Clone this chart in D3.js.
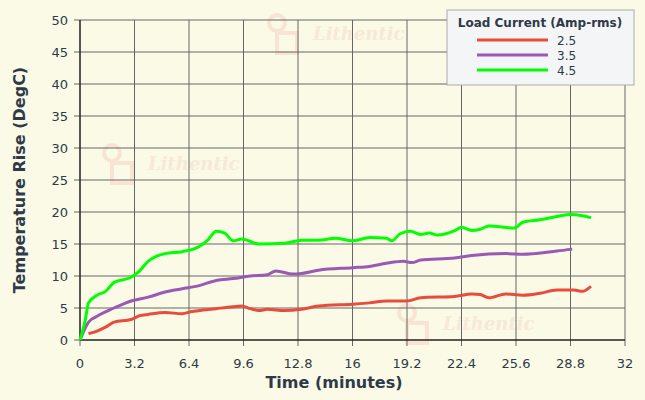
<!DOCTYPE html>
<html><head><meta charset="utf-8">
<script src="https://cdn.jsdelivr.net/npm/d3@7"></script>
<style>
body{margin:0;background:#fafae6;font-family:"DejaVu Sans",sans-serif}
svg text{fill:#2e3a48}
</style></head><body>
<svg width="645" height="400"></svg>
<script>
// data
const seriesNames = ['2.5', '3.5', '4.5']
const seriesColors = ['#e74c3c', '#9b59b6', '#00ff00']
const red = [[0.5,1],[1,1.4],[1.5,2],[2,2.8],[3,3.2],[3.5,3.8],[4,4],[5,4.3],[6,4.1],[6.5,4.4],[8,4.9],[9,5.2],[9.5,5.3],[10,4.9],[10.5,4.6],[11,4.8],[12,4.6],[13,4.8],[14,5.3],[16,5.6],[17,5.8],[18,6.1],[19.2,6.1],[20,6.6],[22,6.8],[23,7.2],[23.5,7.1],[24,6.6],[25,7.2],[26,7.0],[27,7.3],[28,7.8],[29,7.8],[29.5,7.6],[30,8.4]]
const purple = [[0,0],[0.5,2.8],[1,3.7],[2,5],[3,6.1],[4,6.7],[5,7.5],[6,8],[7,8.5],[8,9.3],[9,9.6],[10,10],[11,10.2],[11.5,10.8],[12.5,10.3],[13,10.4],[14,10.9],[16,11.3],[17,11.5],[18,12],[19,12.3],[19.5,12.1],[20,12.5],[22,12.8],[23,13.2],[25,13.5],[26,13.4],[28,13.9],[28.9,14.2]]
const green = [[0,0],[0.3,3],[0.5,5.8],[1,7],[1.5,7.6],[2,9],[2.5,9.4],[3,9.8],[3.5,10.8],[4,12.3],[4.5,13.1],[5,13.5],[6,13.8],[7,14.6],[7.5,15.6],[8,17],[8.5,16.7],[9,15.5],[9.5,15.8],[10.5,15],[12,15.1],[13,15.6],[14,15.6],[15,15.9],[16,15.5],[17,16],[18,15.9],[18.3,15.5],[18.8,16.6],[19.4,17],[20,16.5],[20.5,16.7],[21,16.4],[22,17.1],[22.4,17.6],[23,17.1],[23.5,17.3],[24,17.8],[25.5,17.5],[26,18.4],[27,18.8],[28,19.3],[28.8,19.6],[29.5,19.4],[30,19.1]]
const allSeries = [red, purple, green]
const xTicks = [0, 3.2, 6.4, 9.6, 12.8, 16, 19.2, 22.4, 25.6, 28.8, 32]
const yTicks = [0, 5, 10, 15, 20, 25, 30, 35, 40, 45, 50]

const svg = d3.select('svg')
const pl = 80, pr = 625, pt = 20, pb = 340

const x = d3.scaleLinear().domain([0, 32]).range([pl, pr])
const y = d3.scaleLinear().domain([0, 50]).range([pb, pt])

// watermarks
const marks = [[265, 35], [100, 165], [395, 325]]
marks.forEach(function(m) {
  svg.append('text').attr('x', m[0] + 48).attr('y', m[1] + 5)
    .style('font-family', 'DejaVu Serif').style('font-style', 'italic').style('font-weight', 'bold')
    .style('font-size', '18px').style('fill', '#f8e8d8').text('Lithentic')
  svg.append('circle').attr('cx', m[0] + 12).attr('cy', m[1] - 12).attr('r', 8)
    .attr('fill', 'none').attr('stroke', '#f9e4d4').attr('stroke-width', 4)
  svg.append('rect').attr('x', m[0] + 12).attr('y', m[1] - 2).attr('width', 20).attr('height', 20)
    .attr('fill', 'none').attr('stroke', '#f9e4d4').attr('stroke-width', 4)
})

// grid
svg.append('g').selectAll('line').data(xTicks).enter().append('line')
  .attr('x1', d => x(d)).attr('x2', d => x(d)).attr('y1', pt).attr('y2', pb + 6)
  .attr('stroke', '#666').attr('stroke-width', 1)
svg.append('g').selectAll('line').data(yTicks).enter().append('line')
  .attr('x1', pl - 6).attr('x2', pr).attr('y1', d => y(d)).attr('y2', d => y(d))
  .attr('stroke', '#666').attr('stroke-width', 1)
svg.append('line').attr('x1', pl).attr('x2', pl).attr('y1', pt).attr('y2', pb).attr('stroke', '#000')
svg.append('line').attr('x1', pl).attr('x2', pr).attr('y1', pb).attr('y2', pb).attr('stroke', '#000')

svg.append('g').selectAll('text').data(xTicks).enter().append('text')
  .attr('x', d => x(d)).attr('y', pb + 28).attr('text-anchor', 'middle')
  .style('font-size', '13px').text(d => d)
svg.append('g').selectAll('text').data(yTicks).enter().append('text')
  .attr('x', pl - 12).attr('y', d => y(d) + 5).attr('text-anchor', 'end')
  .style('font-size', '13px').text(d => d)

svg.append('text').attr('x', 334).attr('y', 388).attr('text-anchor', 'middle')
  .style('font-size', '16px').style('font-weight', 'bold').text('Time (minutes)')
svg.append('text').attr('transform', 'translate(25,' + (pt + pb) / 2 + ') rotate(-90)')
  .attr('text-anchor', 'middle').style('font-size', '16px').style('font-weight', 'bold')
  .text('Temperature Rise (DegC)')

const line = d3.line().x(d => x(d[0])).y(d => y(d[1])).curve(d3.curveMonotoneX)
allSeries.forEach(function(s, i) {
  svg.append('path').attr('d', line(s)).attr('fill', 'none')
    .attr('stroke', seriesColors[i]).attr('stroke-width', 3)
})

// legend
const lg = svg.append('g').attr('transform', 'translate(447,10)')
lg.append('rect').attr('width', 187).attr('height', 75).attr('fill', '#f4f5f6').attr('stroke', '#aaa')
lg.append('text').attr('x', 93).attr('y', 17).attr('text-anchor', 'middle')
  .style('font-size', '12px').style('font-weight', 'bold').text('Load Current (Amp-rms)')
seriesNames.forEach(function(n, i) {
  lg.append('line').attr('x1', 30).attr('x2', 101).attr('y1', 30 + i * 15).attr('y2', 30 + i * 15)
    .attr('stroke', seriesColors[i]).attr('stroke-width', 3)
  lg.append('text').attr('x', 110).attr('y', 35 + i * 15).style('font-size', '12px').text(n)
})
</script>
</body></html>
